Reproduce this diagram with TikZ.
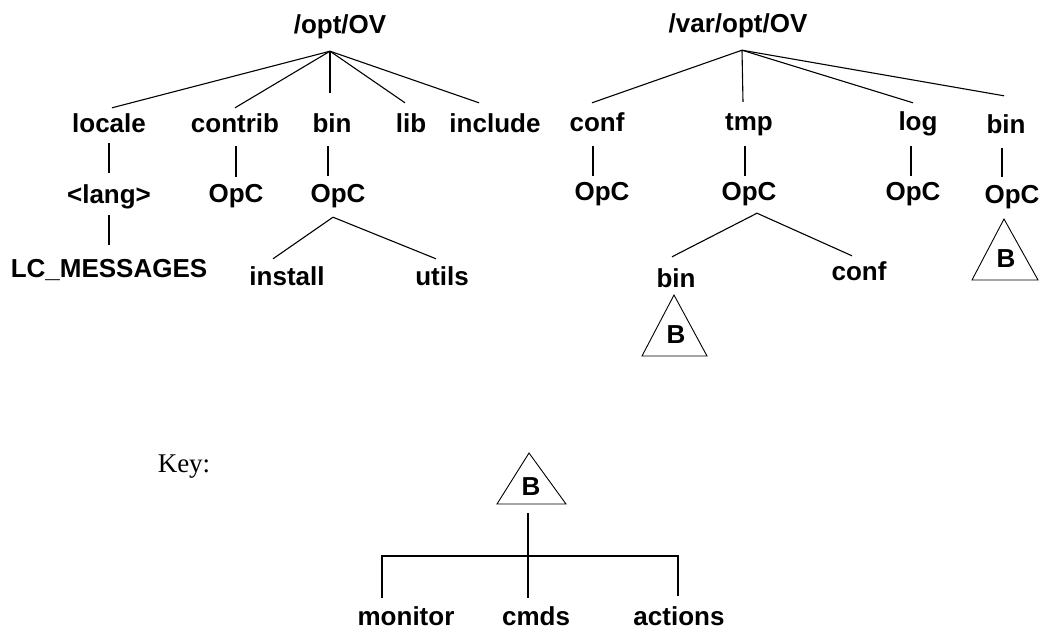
\documentclass[tikz,border=0pt]{standalone}
\usepackage{fontspec}
\setsansfont{Liberation Sans}
\setmainfont{Liberation Serif}
\begin{document}
\begin{tikzpicture}[x=1pt,y=-1pt,
  lbl/.style={font=\sffamily\bfseries\fontsize{26}{30}\selectfont, anchor=base,
    text height=19pt, text depth=5pt, inner xsep=0pt, inner ysep=5pt},
  botlbl/.style={lbl, text depth=0pt, inner ysep=0pt},
  keylbl/.style={font=\rmfamily\fontsize{27}{30}\selectfont, anchor=base, inner sep=0pt},
  dline/.style={line width=1.1pt},
  vline/.style={line width=1.8pt},
  tri/.style={line width=0.9pt, line join=miter},
  brk/.style={line width=1.9pt}]
\useasboundingbox (0,0) rectangle (1047,629);

% ---------- left tree: /opt/OV ----------
\node[lbl] (opt) at (340,33) {/opt/OV};
\coordinate (optJ) at ([xshift=-10pt,yshift=-8pt]opt.south);
\node[lbl] (locale) at (109,132) {locale};
\node[lbl] (contrib) at (235,132) {contrib};
\node[lbl] (binA) at (332,132) {bin};
\node[lbl] (lib) at (411,132) {lib};
\node[lbl] (include) at (495,132) {include};
\node[lbl] (lang) at (109,203) {<lang>};
\node[lbl] (opcA) at (236,202) {OpC};
\node[lbl] (opcB) at (338,202) {OpC};
\node[lbl] (lcm) at (109,277) {LC\_MESSAGES};
\node[lbl] (install) at (287,285) {install};
\node[lbl] (utils) at (442,285) {utils};

\draw[dline] (optJ) -- ([xshift=3pt]locale.north);
\draw[dline] (optJ) -- (contrib.north);
\draw[vline] (optJ) -- ([xshift=-2pt,yshift=15pt]binA.north);
\draw[dline] (optJ) -- ([xshift=-6pt,yshift=5pt]lib.north);
\draw[dline] (optJ) -- ([xshift=-16pt,yshift=5pt]include.north);
\draw[vline] ([yshift=-1pt]locale.south) -- ([yshift=6pt]lang.north);
\draw[vline] ([xshift=1pt,yshift=-4pt]contrib.south) -- ([yshift=1pt]opcA.north);
\draw[vline] ([xshift=-4pt,yshift=-4pt]binA.south) -- ([xshift=-10pt,yshift=2pt]opcB.north);
\draw[vline] ([yshift=-2pt]lang.south) -- ([yshift=8pt]lcm.north);
\coordinate (opcBJ) at ([xshift=-5pt,yshift=-5pt]opcB.south);
\draw[dline] (opcBJ) -- ([xshift=-14pt,yshift=2pt]install.north);
\draw[dline] (opcBJ) -- ([xshift=-6pt,yshift=2pt]utils.north);

% ---------- right tree: /var/opt/OV ----------
\node[lbl] (var) at (738,32) {/var/opt/OV};
\coordinate (varJ) at ([xshift=4pt,yshift=-8pt]var.south);
\node[lbl] (confA) at (597,131) {conf};
\node[lbl] (tmp) at (749,130) {tmp};
\node[lbl] (log) at (918,130) {log};
\node[lbl] (binB) at (1006,133) {bin};
\node[lbl] (opcC) at (602,200) {OpC};
\node[lbl] (opcD) at (749,200) {OpC};
\node[lbl] (opcE) at (913,200) {OpC};
\node[lbl] (opcF) at (1012,203) {OpC};
\node[lbl] (binC) at (676,287) {bin};
\node[lbl] (confB) at (859,280) {conf};

\draw[dline] (varJ) -- ([xshift=-5pt,yshift=4pt]confA.north);
\draw[dline] (varJ) -- ([xshift=-6pt,yshift=4pt]tmp.north);
\draw[dline] (varJ) -- ([xshift=-5pt,yshift=3pt]log.north);
\draw[dline] (varJ) -- ([xshift=-2pt,yshift=13pt]binB.north);
\draw[vline] ([xshift=-4pt,yshift=-5pt]confA.south) -- ([xshift=-9pt]opcC.north);
\draw[vline] ([xshift=-4pt,yshift=-6pt]tmp.south) -- ([xshift=-4pt]opcD.north);
\draw[vline] ([xshift=-7pt,yshift=-6pt]log.south) -- ([xshift=-2pt]opcE.north);
\draw[vline] ([xshift=-4pt,yshift=-5pt]binB.south) -- ([xshift=-10pt,yshift=2pt]opcF.north);
\coordinate (opcDJ) at ([xshift=8pt,yshift=-3pt]opcD.south);
\draw[dline] (opcDJ) -- ([xshift=-4pt,yshift=6pt]binC.north);
\draw[dline] (opcDJ) -- ([xshift=-7pt]confB.north);

% B triangles
\node[lbl] (bA) at (676,343) {B};
\draw[tri] (642,356) -- (674,295) -- (707,356) -- cycle;
\node[lbl] (bB) at (1006,267) {B};
\draw[tri] (972,280) -- (1004,219) -- (1038,280) -- cycle;

% ---------- key ----------
\node[keylbl] (key) at (184,472) {Key:};
\node[lbl] (bK) at (531,495) {B};
\draw[tri] (497,504) -- (529,453) -- (566,504) -- cycle;
\node[botlbl] (monitor) at (406,625) {monitor};
\node[botlbl] (cmds) at (536,625) {cmds};
\node[botlbl] (actions) at (679,625) {actions};
\coordinate (bar) at (528,556);
\draw[brk] ([xshift=-3pt,yshift=-8pt]bK.south) -- ([xshift=-8pt,yshift=8pt]cmds.north);
\draw[brk] ([xshift=-24pt,yshift=8pt]monitor.north) |- (bar) -| ([xshift=-1pt,yshift=10pt]actions.north);
\end{tikzpicture}
\end{document}
